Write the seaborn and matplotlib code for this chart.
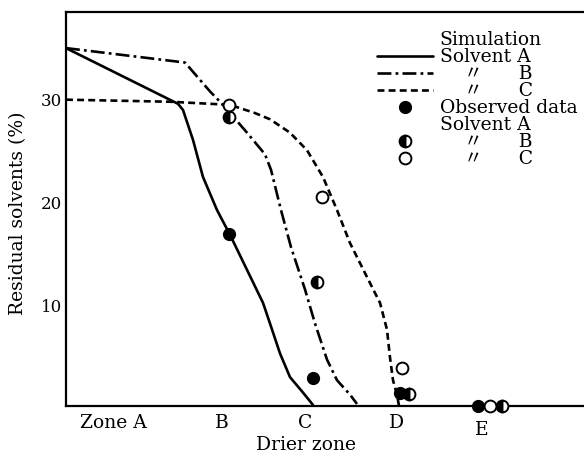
import matplotlib
matplotlib.use("Agg")
import matplotlib.pyplot as plt
import matplotlib.transforms as mtransforms
import seaborn as sns
import pandas as pd
from matplotlib.lines import Line2D

# ---- data (position along drier, residual solvent %) ----
sim_a_x = [0, 11.2, 11.7, 12.7, 13.7, 15.1, 16.4, 18.1, 19.7, 20.4, 21.4, 22.4, 23.7, 24.7]
sim_a_y = [35.0, 29.6, 29.0, 26.1, 22.5, 19.3, 16.9, 13.5, 10.3, 8.3, 5.4, 3.1, 1.6, 0.4]
sim_b_x = [0, 11.9, 14.4, 15.7, 18.1, 19.9, 20.5, 21.5, 22.5, 23.9, 24.9, 26.1, 27.1, 28.4, 29.1]
sim_b_y = [35.0, 33.6, 30.8, 29.5, 26.8, 24.7, 23.2, 19.3, 15.7, 11.6, 8.3, 4.8, 2.8, 1.4, 0.5]
sim_c_x = [0, 10.4, 16.4, 18.9, 20.4, 22.4, 24.1, 25.7, 27.1, 28.4, 30.1, 31.4, 32.1, 32.4, 32.7, 33.1, 33.3]
sim_c_y = [30.0, 29.8, 29.5, 28.7, 28.1, 26.8, 25.1, 22.5, 19.3, 16.1, 12.8, 10.3, 7.7, 5.0, 2.8, 1.4, 0.3]

obs_a_x = [16.3, 24.7, 33.4, 41.2]
obs_a_y = [17.0, 3.0, 1.6, 0.3]
obs_b_x = [16.3, 25.1, 34.3, 43.6]
obs_b_y = [28.3, 12.3, 1.5, 0.3]
obs_c_x = [16.3, 25.6, 33.6, 42.4]
obs_c_y = [29.5, 20.6, 4.0, 0.3]

zone_labels = ["Zone A", "B", "C", "D", "E"]
zone_label_x = [4.7, 15.6, 23.9, 33.1, 41.6]
zone_ticks = [11.7, 20.2, 28.7, 33.3, 38.4, 45.8]
y_ticks = [10, 20, 30]
y_tick_labels = ["10", "20", "30"]

# ---- style ----
sns.set_theme(style="white")
plt.rcParams["font.family"] = ["DejaVu Serif", "Noto Sans CJK JP"]
plt.rcParams["lines.scale_dashes"] = False
plt.rcParams["axes.linewidth"] = 1.6

fig = plt.figure(figsize=(5.84, 4.59), dpi=100)
ax = fig.add_axes([66 / 584, 1 - 406 / 459, 518 / 584, 394 / 459])

sim = pd.concat([
    pd.DataFrame({"pos": sim_a_x, "res": sim_a_y, "solvent": "A"}),
    pd.DataFrame({"pos": sim_b_x, "res": sim_b_y, "solvent": "B"}),
    pd.DataFrame({"pos": sim_c_x, "res": sim_c_y, "solvent": "C"}),
], ignore_index=True)

dash_map = {"A": "", "B": (10, 3, 2, 3), "C": (5, 3)}
sns.lineplot(data=sim, x="pos", y="res", hue="solvent", style="solvent",
             palette={"A": "black", "B": "black", "C": "black"},
             dashes=dash_map, sort=False, estimator=None, lw=1.9,
             legend=False, ax=ax)

ms = 8.5
ax.plot(obs_a_x, obs_a_y, "o", color="black", ms=ms, clip_on=False, zorder=5)
ax.plot(obs_b_x, obs_b_y, "o", ms=ms, fillstyle="left", markerfacecolor="black",
        markerfacecoloralt="white", markeredgecolor="black", mew=1.4,
        clip_on=False, zorder=5)
ax.plot(obs_c_x, obs_c_y, "o", ms=ms, markerfacecolor="white",
        markeredgecolor="black", mew=1.4, clip_on=False, zorder=5)

ax.set_xlim(0, 51.8)
ax.set_ylim(0.3, 38.5)

ax.spines["right"].set_visible(False)
for s in ["left", "bottom", "top"]:
    ax.spines[s].set_color("black")

ax.set_yticks(y_ticks)
ax.set_yticklabels(y_tick_labels)
ax.set_xticks(zone_ticks)
ax.set_xticklabels([])
ax.tick_params(axis="both", direction="in", length=8, width=1.3, color="black")
ax.tick_params(axis="y", labelsize=12, pad=3, labelcolor="black")

trans = mtransforms.blended_transform_factory(ax.transData, ax.transAxes)
for lab, xv in zip(zone_labels, zone_label_x):
    off = -24 if lab == "E" else -17
    ax.annotate(lab, xy=(xv, 0), xycoords=trans, xytext=(0, off * 0.72),
                textcoords="offset points", ha="center", va="center",
                fontsize=13.5, color="black", annotation_clip=False)

ax.set_xlabel("Drier zone", fontsize=13.5, color="black", va="center")
ax.xaxis.set_label_coords((306 - 66) / 518, (406 - 445) / 394)
ax.set_ylabel("Residual solvents (%)", fontsize=13.5, color="black", va="center")
ax.yaxis.set_label_coords((18 - 66) / 518, (406 - 213) / 394)

blank = Line2D([], [], color="none")
handles = [
    blank,
    Line2D([], [], color="black", lw=1.9),
    Line2D([], [], color="black", lw=1.9, dashes=(10, 3, 2, 3)),
    Line2D([], [], color="black", lw=1.9, dashes=(5, 3)),
    Line2D([], [], ls="", marker="o", color="black", ms=ms),
    blank,
    Line2D([], [], ls="", marker="o", ms=ms, fillstyle="left", markerfacecolor="black",
           markerfacecoloralt="white", markeredgecolor="black", mew=1.4),
    Line2D([], [], ls="", marker="o", ms=ms, markerfacecolor="white",
           markeredgecolor="black", mew=1.4),
]
ditto = "    \u3003      "
labels = [
    "Simulation",
    "Solvent A",
    ditto + "B",
    ditto + "C",
    "Observed data",
    "Solvent A",
    ditto + "B",
    ditto + "C",
]
leg = ax.legend(handles, labels, loc="upper left",
                bbox_to_anchor=((377 - 66) / 518, 1 - (31 - 12) / 394),
                frameon=False, borderpad=0, borderaxespad=0,
                handlelength=3.0, handletextpad=0.35, labelspacing=-0.05,
                prop={"family": ["DejaVu Serif", "Noto Sans CJK JP"], "size": 13.5})
for t in leg.get_texts():
    t.set_color("black")

fig.savefig("out.png", dpi=100)
